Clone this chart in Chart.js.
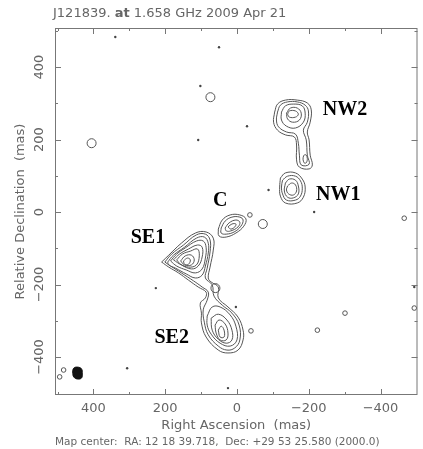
<!DOCTYPE html>
<html>
<head>
<meta charset="utf-8">
<script src="https://cdn.jsdelivr.net/npm/chart.js"></script>
<style>
  body { margin: 0; background: #fff; }
  canvas { display: block; }
</style>
</head>
<body>
<canvas id="myChart" width="423" height="449"></canvas>
<script>
// contours, [RA offset, Dec offset] in mas, outermost level first
const nw2Contours = [
  [[-105,276],[-113,298],[-135,309],[-168,309],[-196,301],[-207,282],[-204,248],[-196,221],[-201,199],[-204,157],[-210,130],[-201,119],[-174,124],[-166,144],[-166,185],[-160,207],[-135,213],[-113,226],[-102,248]],
  [[-113,276],[-121,295],[-141,304],[-168,304],[-190,295],[-199,279],[-196,248],[-185,226],[-193,199],[-196,157],[-201,132],[-179,130],[-174,157],[-171,190],[-163,215],[-138,221],[-116,235],[-110,254]],
  [[-124,276],[-135,293],[-157,298],[-182,293],[-190,273],[-185,248],[-163,232],[-138,237],[-124,254]],
  [[-138,273],[-149,287],[-168,287],[-179,273],[-174,254],[-155,248],[-141,257]],
  [[-141,270],[-146,279],[-163,279],[-171,270],[-163,262],[-146,262]],
  [[-184,146],[-186,156],[-192,158],[-196,148],[-193,136],[-187,136]]
];

const nw1Contours = [
  [[-121,94],[-135,108],[-163,108],[-182,91],[-190,69],[-185,41],[-168,25],[-135,25],[-121,44],[-119,69]],
  [[-127,88],[-141,99],[-163,99],[-177,86],[-182,66],[-177,44],[-163,33],[-138,33],[-127,50],[-124,69]],
  [[-135,80],[-146,91],[-163,88],[-171,72],[-171,50],[-157,39],[-141,41],[-132,58]],
  [[-141,72],[-152,80],[-163,75],[-166,58],[-157,47],[-144,50],[-138,61]]
];

const cContours = [
  [[52,-47],[41,-22],[19,-8],[-8,-8],[-25,-19],[-19,-39],[3,-58],[30,-69],[50,-66]],
  [[44,-44],[33,-25],[14,-14],[-8,-14],[-17,-22],[-11,-39],[8,-55],[30,-61],[44,-58]],
  [[33,-44],[22,-30],[3,-22],[-8,-28],[-3,-41],[17,-52],[30,-52]],
  [[25,-41],[14,-33],[3,-33],[6,-41],[17,-47]]
];

// SE1 and SE2 share the two lowest levels
const seContours = [
  [[210,-138],[190,-119],[155,-86],[116,-58],[86,-55],[66,-72],[66,-105],[75,-152],[80,-182],[72,-193],[52,-207],[52,-237],[25,-262],[-3,-290],[-17,-326],[-17,-353],[-3,-381],[25,-389],[52,-381],[86,-345],[99,-306],[99,-279],[102,-251],[88,-237],[86,-221],[108,-207],[135,-188],[163,-168],[190,-152]],
  [[201,-138],[182,-116],[149,-91],[113,-63],[88,-61],[75,-77],[75,-110],[83,-155],[88,-182],[69,-201],[64,-232],[41,-257],[14,-279],[-6,-312],[-8,-353],[6,-375],[28,-381],[52,-370],[80,-339],[91,-304],[94,-270],[83,-243],[80,-221],[97,-207],[121,-190],[155,-168],[185,-149]],
  [[193,-138],[177,-119],[146,-97],[113,-72],[91,-69],[80,-86],[80,-113],[88,-149],[97,-174],[116,-182],[141,-171],[171,-155],[190,-146]],
  [[185,-135],[168,-116],[144,-99],[113,-80],[94,-80],[86,-97],[88,-127],[97,-157],[116,-168],[141,-160],[168,-149]],
  [[177,-132],[160,-116],[135,-102],[110,-91],[97,-97],[97,-124],[108,-149],[127,-157],[155,-146]],
  [[168,-132],[152,-116],[130,-108],[110,-102],[105,-121],[113,-146],[135,-152],[157,-144]],
  [[157,-135],[144,-121],[127,-119],[119,-132],[127,-146],[146,-146]],
  [[149,-135],[138,-127],[130,-132],[135,-144],[146,-144]],
  [[83,-287],[69,-262],[47,-262],[19,-284],[3,-315],[0,-353],[19,-370],[47,-362],[72,-337],[83,-312]],
  [[72,-293],[52,-282],[28,-298],[14,-326],[14,-353],[30,-362],[52,-351],[69,-326]],
  [[61,-312],[50,-298],[33,-309],[25,-334],[30,-353],[47,-353],[58,-334]],
  [[52,-326],[44,-315],[36,-326],[36,-345],[47,-345]]
];

// restoring beam
const beam = [[458,-442],[455,-431],[444,-428],[433,-433],[431,-447],[433,-458],[444,-461],[455,-455]];

// small isolated contours and noise peaks
const ringsLarge = [[74,317],[405,190],[60,-210],[-72,-33]];
const ringsSmall = [[-466,-17],[-494,-265],[-224,-326],[-39,-328],[-36,-8],[-301,-279],[494,-455],[483,-436]];
const specks = [[339,483],[50,455],[102,348],[108,199],[-28,237],[-88,61],[-215,0],[306,-431],[25,-486],[-494,-207],[226,-210],[3,-262]];

const componentNames = ['NW2', 'NW1', 'C', 'SE1', 'SE2'];
const componentAt = [[-301,268],[-282,33],[47,17],[248,-86],[182,-362]];

const majorTicks = [-400, -200, 0, 200, 400];

function loop(pts) {
  const d = pts.map(p => ({ x: p[0], y: p[1] }));
  d.push(d[0]);
  return d;
}
function pts(list) {
  return list.map(p => ({ x: p[0], y: p[1] }));
}

var datasets = [];
[nw2Contours, nw1Contours, cContours, seContours].forEach(group => {
  group.forEach(c => {
    datasets.push({ data: loop(c), showLine: true, pointRadius: 0, borderColor: '#555', borderWidth: 1, tension: 0.4 });
  });
});
datasets.push({ data: loop(beam), showLine: true, pointRadius: 0, borderColor: '#111', borderWidth: 1, backgroundColor: '#111', fill: 'shape', tension: 0.4 });
datasets.push({ data: pts(ringsLarge), pointRadius: 4.5, borderColor: '#555', borderWidth: 1, backgroundColor: 'rgba(0,0,0,0)' });
datasets.push({ data: pts(ringsSmall), pointRadius: 2.3, borderColor: '#555', borderWidth: 1, backgroundColor: 'rgba(0,0,0,0)' });
datasets.push({ data: pts(specks), pointRadius: 1.2, borderWidth: 0, backgroundColor: '#444' });

const textCol = '#666';
const axisFont = { family: 'DejaVu Sans', size: 13 };

function fmt(v) {
  return v < 0 ? '\u2212' + Math.abs(v) : String(v);
}

// frame, inward ticks, tick labels, source labels, header and footer
const decor = {
  id: 'decor',
  afterDraw(chart) {
    const ctx = chart.ctx;
    const a = chart.chartArea;
    const sx = chart.scales.x, sy = chart.scales.y;
    ctx.save();
    ctx.strokeStyle = '#777';
    ctx.lineWidth = 1;
    ctx.strokeRect(a.left + 0.5, a.top + 0.5, a.right - a.left - 1, a.bottom - a.top - 1);
    ctx.beginPath();
    for (let v = -500; v <= 500; v += 100) {
      const len = v % 200 === 0 ? 6 : 3;
      const px = Math.round(sx.getPixelForValue(v)) + 0.5;
      if (px > a.left + 2 && px < a.right - 2) {
        ctx.moveTo(px, a.top); ctx.lineTo(px, a.top + len);
        ctx.moveTo(px, a.bottom); ctx.lineTo(px, a.bottom - len);
      }
      const py = Math.round(sy.getPixelForValue(v)) + 0.5;
      if (py > a.top + 2 && py < a.bottom - 2) {
        ctx.moveTo(a.left, py); ctx.lineTo(a.left + len, py);
        ctx.moveTo(a.right, py); ctx.lineTo(a.right - len, py);
      }
    }
    ctx.stroke();

    ctx.fillStyle = textCol;
    ctx.font = '13px "DejaVu Sans"';
    ctx.textAlign = 'center';
    ctx.textBaseline = 'middle';
    majorTicks.forEach(v => {
      ctx.fillText(fmt(v), sx.getPixelForValue(v), a.bottom + 14);
      ctx.save();
      ctx.translate(a.left - 15, sy.getPixelForValue(v));
      ctx.rotate(-Math.PI / 2);
      ctx.fillText(fmt(v), 0, 0);
      ctx.restore();
    });

    ctx.fillStyle = '#000';
    ctx.font = 'bold 20px "Liberation Serif"';
    ctx.textBaseline = 'alphabetic';
    componentNames.forEach((n, i) => {
      ctx.fillText(n, sx.getPixelForValue(componentAt[i][0]), sy.getPixelForValue(componentAt[i][1]));
    });

    ctx.fillStyle = textCol;
    ctx.textAlign = 'left';
    ctx.textBaseline = 'middle';
    let x = 53;
    ctx.font = '13px "DejaVu Sans"';
    ctx.fillText('J121839. ', x, 14);
    x += ctx.measureText('J121839. ').width;
    ctx.font = 'bold 13px "DejaVu Sans"';
    ctx.fillText('at', x, 14);
    x += ctx.measureText('at').width;
    ctx.font = '13px "DejaVu Sans"';
    ctx.fillText(' 1.658 GHz 2009 Apr 21', x, 14);

    ctx.font = '10.5px "DejaVu Sans"';
    ctx.fillText('Map center:  RA: 12 18 39.718,  Dec: +29 53 25.580 (2000.0)', 55, 442);
    ctx.restore();
  }
};

new Chart(document.getElementById('myChart'), {
  type: 'scatter',
  data: { datasets: datasets },
  plugins: [decor],
  options: {
    responsive: false,
    animation: false,
    devicePixelRatio: 1,
    events: [],
    layout: { padding: { top: 28, right: 2, bottom: 16, left: 0 } },
    plugins: { legend: { display: false }, tooltip: { enabled: false } },
    scales: {
      x: {
        type: 'linear', reverse: true, min: -503, max: 507,
        grid: { display: false, tickLength: 0 }, border: { display: false },
        ticks: { display: false },
        title: { display: true, text: 'Right Ascension  (mas)', color: textCol, font: axisFont, padding: { top: 0, bottom: 0 } },
        afterFit: s => { s.height = 38; s.paddingLeft = 0; s.paddingRight = 0; }
      },
      y: {
        type: 'linear', min: -505, max: 508,
        grid: { display: false, tickLength: 0 }, border: { display: false },
        ticks: { display: false },
        title: { display: true, text: 'Relative Declination  (mas)', color: textCol, font: axisFont, padding: { top: 13, bottom: 0 } },
        afterFit: s => { s.width = 55; s.paddingTop = 0; s.paddingBottom = 0; }
      }
    }
  }
});
</script>
</body>
</html>
